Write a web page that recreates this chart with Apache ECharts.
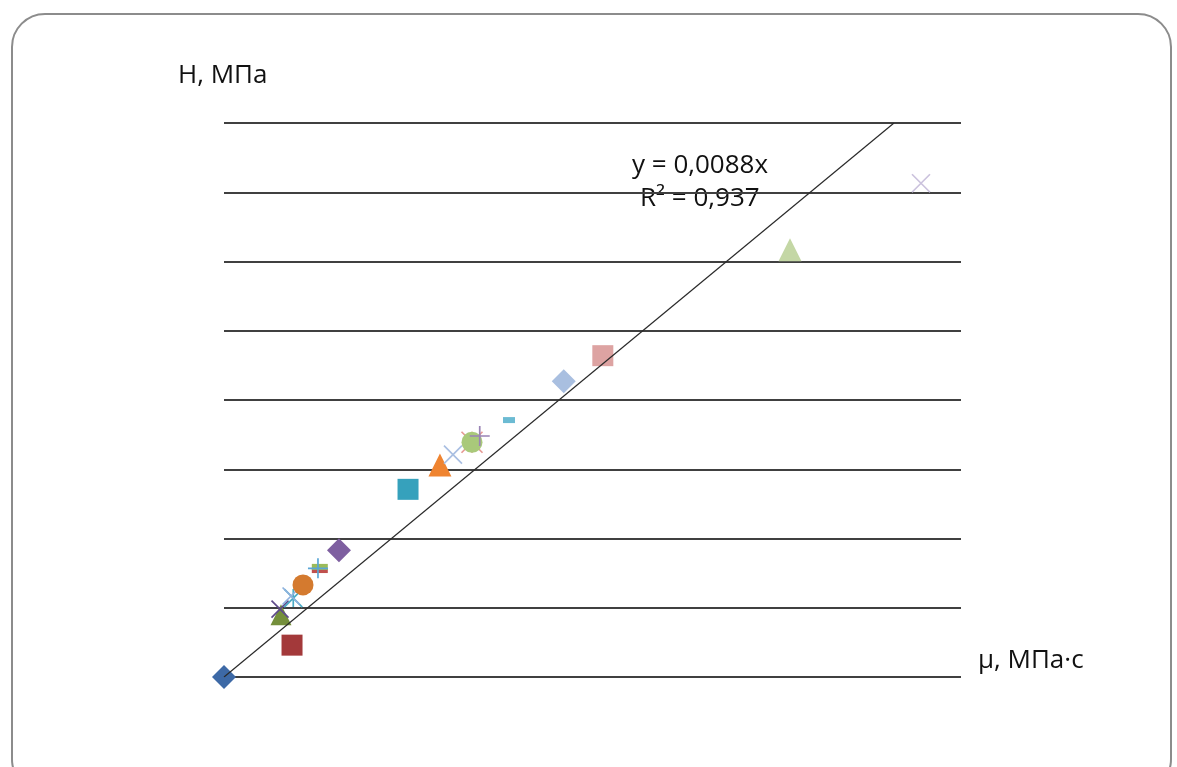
<!DOCTYPE html>
<html>
<head>
<meta charset="utf-8">
<script src="https://cdn.jsdelivr.net/npm/echarts@6/dist/echarts.min.js"></script>
<style>
  html, body { margin: 0; padding: 0; background: #fff; }
  body { width: 1177px; height: 767px; position: relative; overflow: hidden; }
  .frame {
    position: absolute; left: 11px; top: 13px; width: 1161px; height: 780px;
    border: 2px solid #8c8c8c; border-radius: 34px; box-sizing: border-box;
  }
  #chart { position: absolute; left: 0; top: 0; width: 1177px; height: 767px; }
</style>
</head>
<body>
<div class="frame"></div>
<div id="chart"></div>
<script>
// значения точек (μ, H), по одной точке на серию
const pointNames = ['1', '2', '3', '4', '5', '6', '7', '8', '9', '10', '11', '12',
  '13', '14', '15', '16', '17', '18', '19', '20', '21', '22', '23'];
const muValues = [0, 92.3, 77.3, 76, 94, 91, 107.2, 130, 130, 127.5, 156, 249.7,
  293, 310.7, 336.5, 336.5, 347, 386.7, 460, 461, 514, 768, 945.7];
const hValues = [0, 0.46, 0.9, 0.98, 1.14, 1.17, 1.33, 1.53, 1.59, 1.57, 1.83, 2.71,
  3.06, 3.21, 3.39, 3.39, 3.48, 3.71, 4.26, 4.27, 4.64, 6.17, 7.13];

// линия тренда y = 0,0088x
const trendSlope = 0.0088;
const xMax = 1000;
const yMax = 8;

// оформление маркеров (как в Excel)
const X_PATH = 'path://M0,0L20,20M20,0L0,20';
const STAR_PATH = 'path://M0,0L20,20M20,0L0,20M10,0L10,20';
const PLUS_PATH = 'path://M10,0L10,20M0,10L20,10';
const markers = [
  { s: 'diamond', size: 24, c: '#3d69a6' },
  { s: 'rect', size: 21, c: '#a3393a' },
  { s: 'triangle', size: 21, c: '#748f3b' },
  { s: X_PATH, size: 17, c: '#5e4a8a', line: true },
  { s: STAR_PATH, size: 18, c: '#4bacc6', line: true },
  { s: X_PATH, size: 17, c: '#8fb2de', line: true },
  { s: 'circle', size: 21, c: '#d47a2f' },
  { s: 'rect', size: [16, 4], c: '#c0504d' },
  { s: 'rect', size: [16, 6], c: '#9bbb59' },
  { s: PLUS_PATH, size: 20, c: '#5aa6d6', line: true },
  { s: 'diamond', size: 24, c: '#7e5fa0' },
  { s: 'rect', size: 21, c: '#36a1bc' },
  { s: 'triangle', size: 23, c: '#ef8430' },
  { s: X_PATH, size: 18, c: '#a9bfe2', line: true },
  { s: STAR_PATH, size: 21, c: '#e69a94', line: true },
  { s: 'circle', size: 21, c: '#a9c97a' },
  { s: PLUS_PATH, size: 20, c: '#9983b5', line: true },
  { s: 'rect', size: [12, 6], c: '#6cbbd3' },
  { s: 'rect', size: [12, 6], c: '#f5a66b' },
  { s: 'diamond', size: 24, c: '#a9bfe0' },
  { s: 'rect', size: 21, c: '#dda3a2' },
  { s: 'triangle', size: 23, c: '#c4d7a5' },
  { s: X_PATH, size: 18, c: '#cbc2dd', line: true }
];

const chart = echarts.init(document.getElementById('chart'));

const series = pointNames.map((name, i) => {
  const m = markers[i];
  return {
    name: name,
    type: 'scatter',
    data: [[muValues[i], hValues[i]]],
    symbol: m.s,
    symbolSize: m.size,
    itemStyle: m.line
      ? { color: 'none', borderColor: m.c, borderWidth: 1.7, opacity: 1 }
      : { color: m.c, opacity: 1 },
    emphasis: { disabled: true },
    z: 2
  };
});

series.push({
  name: 'trend',
  type: 'line',
  data: [[0, 0], [yMax / trendSlope, yMax]],
  symbol: 'none',
  lineStyle: { color: '#2a2a2a', width: 1.2 },
  z: 5,
  silent: true
});

const font = '"Open Sans", "DejaVu Sans", sans-serif';
const textStyle = (txt, x, y) => ({
  type: 'text',
  left: x,
  top: y,
  style: { text: txt, font: '26px ' + font, fill: '#111' }
});

chart.setOption({
  animation: false,
  grid: { left: 224, top: 123, width: 737, height: 554, containLabel: false },
  xAxis: {
    type: 'value', min: 0, max: xMax,
    axisLabel: { show: false }, axisLine: { show: false },
    axisTick: { show: false }, splitLine: { show: false }
  },
  yAxis: {
    type: 'value', min: 0, max: yMax, interval: 1,
    axisLabel: { show: false }, axisLine: { show: false },
    axisTick: { show: false },
    splitLine: { show: true, lineStyle: { color: '#404040', width: 2 } }
  },
  graphic: [
    textStyle('H, МПа', 178, 63),
    textStyle('y = 0,0088x', 632, 153),
    textStyle('R² = 0,937', 640, 186),
    textStyle('μ, МПа·с', 978, 648)
  ],
  series: series
});

window.addEventListener('resize', () => chart.resize());
</script>
</body>
</html>
